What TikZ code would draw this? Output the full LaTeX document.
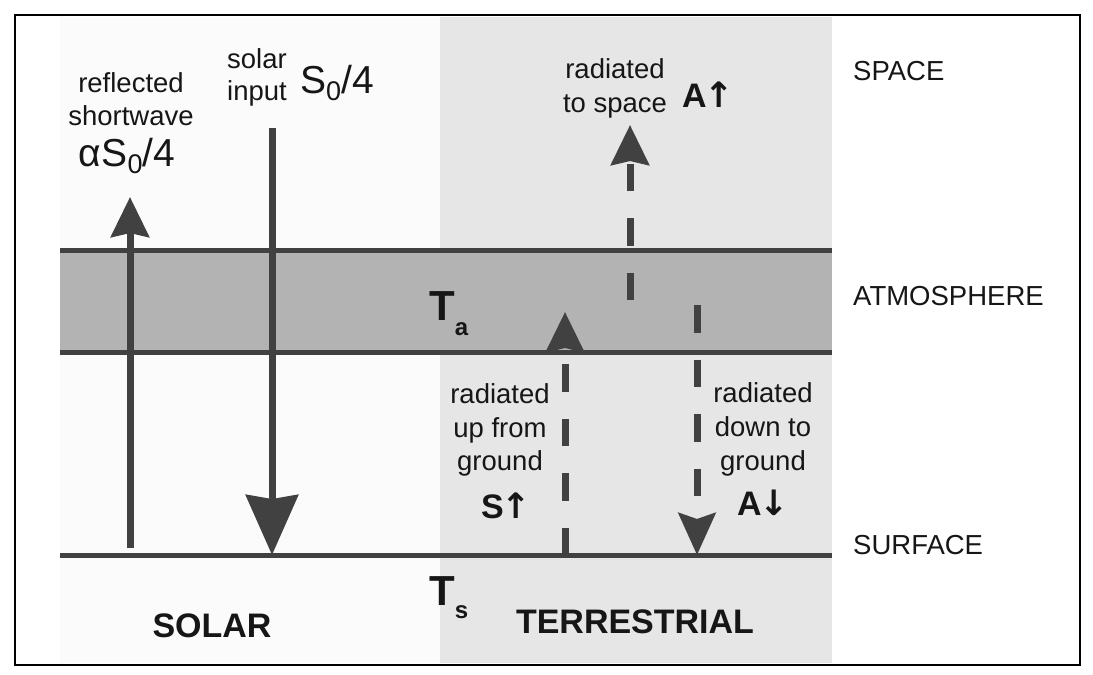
\documentclass[tikz,border=0pt]{standalone}
\usepackage{fontspec}
\setmainfont{Liberation Sans}
\newfontfamily\arrowfont{DejaVu Sans}
\usetikzlibrary{arrows.meta}
\definecolor{ink}{HTML}{414141}
\definecolor{txt}{HTML}{161616}
\definecolor{panelsolar}{HTML}{FBFBFB}
\definecolor{panelterr}{HTML}{E6E6E6}
\definecolor{atmos}{HTML}{B3B3B3}
\tikzset{
  lbl/.style={inner sep=0pt, anchor=base, text=txt, font=\fontsize{27.5}{33}\selectfont},
  lblleft/.style={lbl, anchor=base west},
  biglbl/.style={inner sep=0pt, anchor=base, text=txt, font=\fontsize{34}{40}\selectfont\bfseries},
  symlbl/.style={inner sep=0pt, anchor=base, text=txt, font=\fontsize{39}{44}\selectfont},
  flux/.style={inner sep=0pt, anchor=base, text=txt, font=\fontsize{34}{40}\selectfont\bfseries},
  templbl/.style={inner sep=0pt, anchor=base west, text=txt, font=\fontsize{42}{48}\selectfont\bfseries},
  layerline/.style={draw=ink, line width=5pt},
  shaft/.style={draw=ink, line width=7pt},
  dashshaft/.style={draw=ink, line width=7pt, dash pattern=on 27.5pt off 27pt},
  tipsmall/.style={-{Stealth[length=40pt,width=38pt,inset=4pt]}},
  tipbig/.style={-{Stealth[length=60pt,width=52pt,inset=4pt]}},
}
\newcommand{\subz}[1]{\raisebox{-7pt}{\fontsize{27}{27}\selectfont #1}}
\newcommand{\subt}[2]{\raisebox{-#2}{\fontsize{24}{24}\selectfont\bfseries #1}}
\newcommand{\arr}[1]{\kern-2pt{\arrowfont\fontsize{35}{35}\selectfont\bfseries #1}}
\begin{document}
\begin{tikzpicture}[x=1pt,y=-1pt]
\useasboundingbox (0,0) rectangle (1093,675);
\fill[white] (0,0) rectangle (1093,675);
% panels
\fill[panelsolar] (60,17) rectangle (440,663);
\fill[panelterr] (440,17) rectangle (832,663);
\fill[atmos] (60,250) rectangle (832,352);
% layer lines
\coordinate (atL) at (60,250); \coordinate (atR) at (832,250);
\coordinate (abL) at (60,352); \coordinate (abR) at (832,352);
\coordinate (sfL) at (60,555); \coordinate (sfR) at (832,555);
\draw[layerline] (atL) -- (atR);
\draw[layerline] (abL) -- (abR);
\draw[layerline] (sfL) -- (sfR);
% frame
\draw[black, line width=2.5pt] (15,15) rectangle (1080,665);

% arrow end points
\coordinate (reflTail) at (130,548);
\coordinate (reflTip) at (130,197);
\coordinate (solarTail) at (272,128);
\coordinate (solarTip) at (272,555);
\coordinate (spaceTail) at (630,300);
\coordinate (spaceTip) at (630,125);
\coordinate (upTail) at (565,555);
\coordinate (upTip) at (565,312);
\coordinate (downTail) at (697,305);
\coordinate (downTip) at (697,555);

\draw[shaft, tipsmall] (reflTail) -- (reflTip);
\draw[shaft, tipbig] (solarTail) -- (solarTip);
\draw[dashshaft, tipsmall] (spaceTail) -- (spaceTip);
\draw[dashshaft, tipsmall] (upTail) -- (upTip);
\draw[dashshaft, -{Stealth[length=42pt,width=37pt,inset=6pt]}] (downTail) -- (downTip);

% labels: reflected shortwave
\node[lbl] (refl1) at (131,92) {reflected};
\node[lbl] (refl2) at (131,125) {shortwave};
\node[symlbl] (reflS) at (127,166) {αS\subz{0}/4};
% solar input
\node[lbl] (sol1) at (257,68) {solar};
\node[lbl] (sol2) at (257,100) {input};
\node[symlbl] (solS) at (337,93) {S\subz{0}/4};
% radiated to space
\node[lbl] (sp1) at (615,78) {radiated};
\node[lbl] (sp2) at (615,112) {to space};
\node[flux] (spA) at (708,107) {A\arr{↑}};
% radiated up from ground
\node[lbl] (up1) at (500,403) {radiated};
\node[lbl] (up2) at (500,437) {up from};
\node[lbl] (up3) at (500,470) {ground};
\node[flux] (upS) at (506,518) {S\arr{↑}};
% radiated down to ground
\node[lbl] (dn1) at (763,402) {radiated};
\node[lbl] (dn2) at (763,436) {down to};
\node[lbl] (dn3) at (763,470) {ground};
\node[flux] (dnA) at (763,515) {A\arr{↓}};
% temperatures
\node[templbl] (Ta) at (429,320) {T\subt{a}{15pt}};
\node[templbl] (Ts) at (429,605) {T\subt{s}{13pt}};
% layer names
\node[lblleft] (space) at (853,80) {SPACE};
\node[lblleft] (atm) at (853,305) {ATMOSPHERE};
\node[lblleft] (surf) at (853,554) {SURFACE};
% bottom labels
\node[biglbl] (solar) at (212,637) {SOLAR};
\node[biglbl] (terr) at (635,633) {TERRESTRIAL};
\end{tikzpicture}
\end{document}
